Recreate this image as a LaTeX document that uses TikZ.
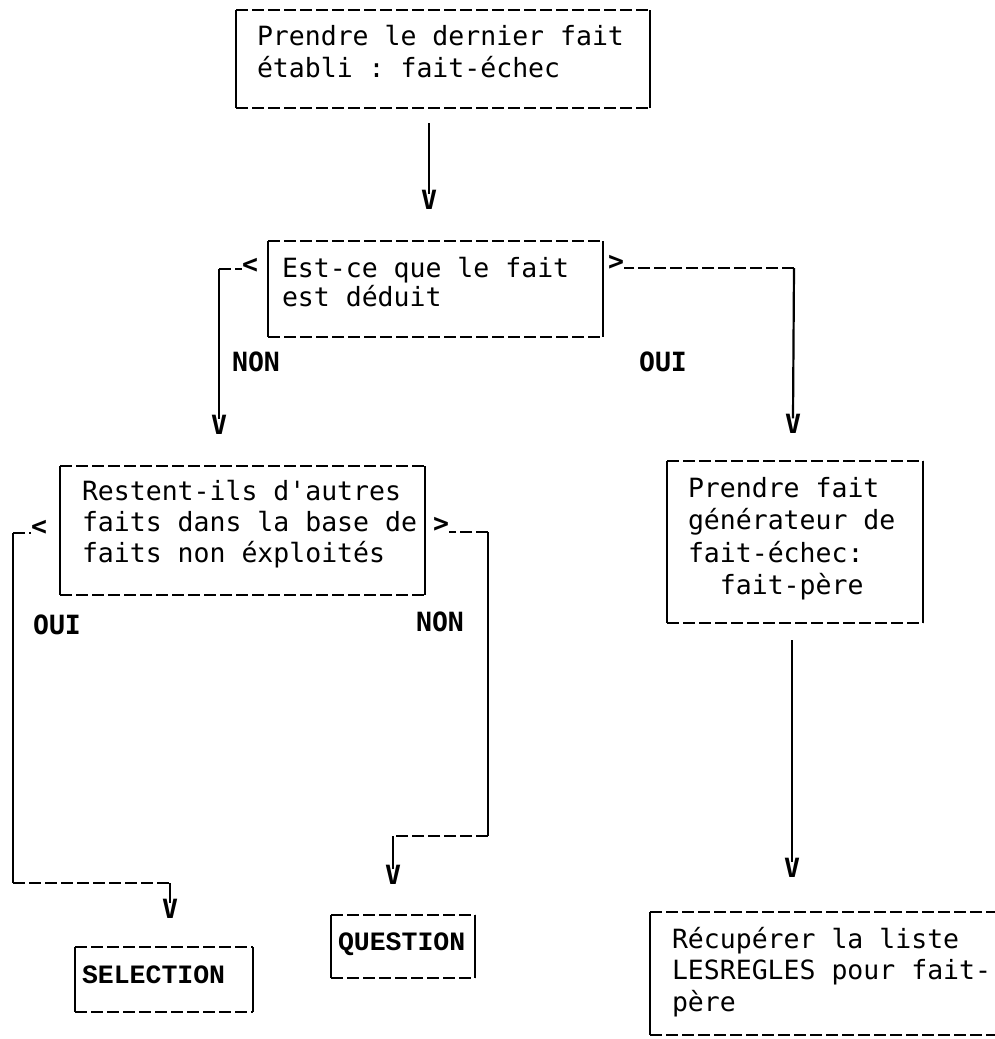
\documentclass[tikz,border=0pt]{standalone}
\usepackage{fontspec}
\setmonofont{DejaVu Sans Mono}
\newfontfamily\printfont{Liberation Mono}
\begin{document}
\tikzset{
  every node/.style={inner sep=0pt, outer sep=0pt},
  txt/.style={font=\ttfamily\fontsize{26.5}{31.5}\selectfont},
  lbl/.style={font=\ttfamily\bfseries\fontsize{26.5}{31.5}\selectfont},
  boldbox/.style={font=\printfont\bfseries\fontsize{26.5}{31.5}\selectfont},
  hdash/.style={line width=2.2pt, dash pattern=on 12pt off 4pt},
  vrule/.style={line width=2.2pt},
  boxnode/.style={anchor=north west},
  tip/.style={lbl},
}
% #1 width, #2 height, #3 left margin, #4 first baseline below top, #5 line pitch, #6 lines
\newcommand\boxtext[6]{%
  \parbox[c][#2pt][t]{#1pt}{\leftskip=#3pt\parindent=0pt\baselineskip=#5pt
    \spaceskip=\fontdimen2\font\relax\xspaceskip=\fontdimen2\font\relax
    \rule{0pt}{#4pt}#6}}
\newcommand\frameit[1]{%
  \draw[hdash] (#1.north west) -- (#1.north east);
  \draw[hdash] (#1.south west) -- (#1.south east);
  \draw[vrule] (#1.north west) -- (#1.south west);
  \draw[vrule] (#1.north east) -- (#1.south east);}
\begin{tikzpicture}[x=1pt,y=-1pt]
\useasboundingbox (0,0) rectangle (995,1039);
\clip (0,0) rectangle (995,1039);

% boxes
\node[txt, boxnode] (top) at (236,10)
  {\boxtext{414}{98}{21}{35}{32}{Prendre le dernier fait\\établi : fait-échec}};
\node[txt, boxnode] (q1) at (268,241)
  {\boxtext{335}{96}{14}{36}{29.5}{Est-ce que le fait\\est déduit}};
\node[txt, boxnode] (q2) at (60,466)
  {\boxtext{365}{129}{22}{34}{31}{Restent-ils d'autres\\faits dans la base de\\faits non éxploités}};
\node[txt, boxnode] (act) at (667,461)
  {\boxtext{256}{162}{21}{36}{32.5}{Prendre fait\\générateur de\\fait-échec:\\\hphantom{xx}fait-père}};
\node[boldbox, boxnode] (sel) at (75,947)
  {\boxtext{178}{65}{7}{36}{31}{SELECTION}};
\node[boldbox, boxnode] (qst) at (331,915)
  {\boxtext{144}{63}{7}{35}{31}{QUESTION}};
\node[txt, boxnode] (rec) at (650,912)
  {\boxtext{400}{123}{22}{36}{31.5}{Récupérer la liste\\LESREGLES pour fait-\\père}};

\frameit{top}\frameit{q1}\frameit{q2}\frameit{act}\frameit{sel}\frameit{qst}\frameit{rec}

% arrow heads and branch marks
\node[tip] (v1) at (429,200) {V};
\node[tip] (vl1) at (219,425) {V};
\node[tip] (vr1) at (793,424) {V};
\node[tip] (vs) at (170,909) {V};
\node[tip] (vq) at (393,875) {V};
\node[tip] (vb) at (792,868) {V};
\node[tip] (lt1) at (250,266) {<};
\node[tip] (gt1) at (616,263) {>};
\node[tip] (lt2) at (39,528) {<};
\node[tip] (gt2) at (441,525) {>};

% branch labels
\node[lbl] (non1) at (256,362) {NON};
\node[lbl] (oui1) at (663,362) {OUI};
\node[lbl] (oui2) at (57,625) {OUI};
\node[lbl] (non2) at (440,622) {NON};

% corners
\coordinate (k1) at (219,269);
\coordinate (k2) at (794,268);
\coordinate (k3) at (13,533);
\coordinate (k4) at (488,532);
\coordinate (k5) at (13,883);
\coordinate (k6) at (170,883);
\coordinate (k7) at (488,836);
\coordinate (k8) at (393,836);

% connectors
\draw[vrule] ([yshift=-15pt]top.south -| v1.north) -- ([yshift=-4pt]v1.north);
\draw[hdash] (k1) -- (k1 -| lt1.west);
\draw[vrule] (k1) -- ([yshift=-4pt]vl1.north);
\draw[hdash] (k2) -- (k2 -| gt1.east);
\draw[vrule] (k2) -- ([yshift=-4pt]vr1.north);
\draw[hdash] (k3) -- (k3 -| lt2.west);
\draw[vrule] (k3) -- (k5);
\draw[hdash] (k5) -- (k6);
\draw[vrule] (k6) -- ([yshift=-4pt]vs.north);
\draw[hdash] (k4) -- (k4 -| gt2.east);
\draw[vrule] (k4) -- (k7);
\draw[hdash] (k7) -- (k8);
\draw[vrule] (k8) -- ([yshift=-4pt]vq.north);
\draw[vrule] ([yshift=-17pt]act.south -| vb.north) -- ([yshift=-4pt]vb.north);
\end{tikzpicture}
\end{document}
